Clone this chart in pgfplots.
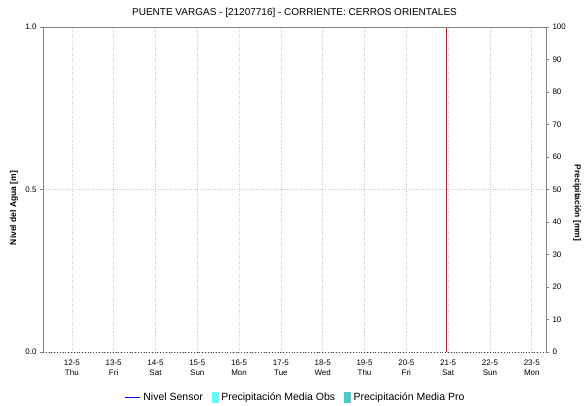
\documentclass[border=0pt]{standalone}
\usepackage{fontspec}
\setmainfont{Liberation Sans}
\usepackage{pgfplots}
\pgfplotsset{compat=1.18}
\definecolor{axgray}{HTML}{808080}
\definecolor{gridgray}{HTML}{C8C8C8}
\definecolor{obscyan}{HTML}{5CFFFF}
\definecolor{proteal}{HTML}{48CCCC}
\begin{document}
\begin{tikzpicture}
\path (0,0) rectangle (587bp,405bp);
\begin{axis}[
  at={(43bp,53bp)}, anchor=south west,
  scale only axis, width=503bp, height=325bp,
  xmin=-0.69, xmax=11.34, ymin=0, ymax=1,
  /pgf/number format/assume math mode=true,
  axis y line*=left, axis x line*=bottom,
  x axis line style={draw=black!75, dotted, line width=0.8bp, -},
  y axis line style={draw=axgray, -},
  xtick={0,1,2,3,4,5,6,7,8,9,10,11},
  xticklabels={12-5\\Thu,13-5\\Fri,14-5\\Sat,15-5\\Sun,16-5\\Mon,17-5\\Tue,18-5\\Wed,19-5\\Thu,20-5\\Fri,21-5\\Sat,22-5\\Sun,23-5\\Mon},
  xticklabel style={align=center, font=\fontsize{8bp}{10.5bp}\selectfont, yshift=-1bp},
  x tick style={draw=none},
  ytick={0,0.5,1}, yticklabels={0.0,0.5,1.0},
  yticklabel style={font=\fontsize{8bp}{10bp}\selectfont},
  y tick style={draw=axgray},
  tick align=outside, major tick length=3bp,
  xmajorgrids, ymajorgrids,
  grid style={draw=gridgray, dotted, line width=0.7bp},
  legend style={draw=none, fill=none, at={(0.502,-0.1385)}, anchor=center,
    font=\fontsize{10.5bp}{12bp}\selectfont, legend columns=3,
    /tikz/every odd column/.append style={column sep=1bp},
    /tikz/every even column/.append style={column sep=7bp}},
  legend cell align=left,
]
\addlegendimage{legend image code/.code={\draw[blue, line width=0.8bp] (0bp,0bp) -- (15bp,0bp);}}
\addlegendentry{Nivel Sensor}
\addlegendimage{legend image code/.code={\fill[obscyan] (9bp,-5bp) rectangle (15bp,5bp);}}
\addlegendentry{Precipitación Media Obs}
\addlegendimage{legend image code/.code={\fill[proteal] (9bp,-5bp) rectangle (15bp,5bp);}}
\addlegendentry{Precipitación Media Pro}
\addplot[red, line width=1.2bp, forget plot] coordinates {(8.96,0) (8.96,1)};
\draw[axgray] (rel axis cs:0,1) -- (rel axis cs:1,1);
\end{axis}
\begin{axis}[
  at={(43bp,53bp)}, anchor=south west,
  scale only axis, width=503bp, height=325bp,
  xmin=-0.69, xmax=11.34, ymin=0, ymax=100,
  /pgf/number format/assume math mode=true,
  axis y line*=right, axis x line=none,
  y axis line style={draw=axgray, -},
  ytick={0,10,...,100},
  yticklabel style={font=\fontsize{8bp}{10bp}\selectfont},
  y tick style={draw=axgray},
  tick align=outside, major tick length=3bp,
]
\addplot[draw=none] coordinates {(0,0)};
\end{axis}
\node[font=\fontsize{10bp}{12bp}\selectfont] at (294.5bp,392bp) {PUENTE VARGAS - [21207716] - CORRIENTE: CERROS ORIENTALES};
\node[font=\bfseries\fontsize{8.5bp}{10bp}\selectfont, rotate=90] at (14bp,197bp) {Nivel del Agua [m]};
\node[font=\bfseries\fontsize{8.5bp}{10bp}\selectfont, rotate=-90] at (577bp,202bp) {Precipitación [mm]};
\end{tikzpicture}
\end{document}
